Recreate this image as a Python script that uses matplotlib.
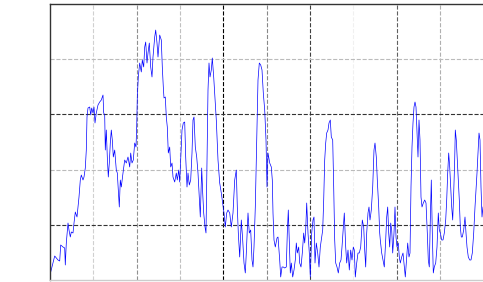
import numpy as np
import matplotlib
matplotlib.use("Agg")
import matplotlib.pyplot as plt

# ==============================================================================
# DATA (arbitrary units, no tick labels shown)
# ==============================================================================
t = [0.7, 3, 4.7, 6.3, 8, 9.7, 10.7, 13, 14.7, 15.3, 16.3, 18, 19, 20.3, 21.3, 23, 24, 25.3,
     27, 28, 29, 30.3, 31.3, 33, 34, 35.3, 36.3, 37, 38, 39.7, 40.7, 41.7, 43, 44, 45, 46.3,
     48, 49.7, 51.3, 53, 53.7, 54.7, 55.3, 56.3, 57.3, 58.3, 59.3, 60.3, 61.3, 62.3, 63.3,
     64.7, 66.3, 67.3, 68.7, 69.3, 70.3, 71.3, 73, 74.7, 76.3, 78, 79.7, 80.7, 82, 83.3, 84.7,
     86, 86.7, 87.3, 88.3, 89.7, 91.3, 92.3, 93.7, 94.7, 95.7, 97, 98, 99.3, 100.7, 102, 103,
     104.7, 105.7, 107, 108,
     109.7, 111.3, 112.3, 113.3, 114, 115.3, 116.3, 117.3, 118.3, 119.7, 120.7, 122, 123,
     124.7, 126.3, 127.3, 128.7, 129.7, 130.7, 132, 133.3, 134.7, 135.7, 137, 138, 139.3,
     140.7, 142, 143, 144, 145.3, 146.7, 148, 149.3, 150.3, 151.7, 152.7, 153.7, 155, 156,
     157, 158, 159, 160, 161.3, 162.3, 163.7, 164.7, 166.3, 168, 169.7, 171.3, 172.7, 174,
     175.3, 176.7, 178, 179.7, 181.3, 183, 184.7, 186.3, 187.3, 188.3, 189.7, 191.3, 192.7,
     194, 195.3, 196.3, 198, 199.3, 200.7, 202, 203, 204, 205.3, 206.7, 208, 209.3, 210.7,
     212, 213.3, 214.7, 216, 217, 218,
     219.7, 221.3, 222.3, 223, 224, 225.3, 227, 228, 229.7, 230.7, 232, 233.3, 234.7, 236.3,
     237.3, 238.3, 239.3, 240.3, 241.3, 242.7, 244, 245.3, 246.3, 247.3, 248.7, 249.7, 251,
     252.3, 253.7, 254.7, 255.7, 256.7, 258, 259.3, 260.3, 261.7, 263, 264, 265, 266.3, 267.7,
     269, 270.3, 271.3, 272.7, 273.7, 274.7, 275.7, 276.7, 278, 279, 280.3, 281.3, 282.7,
     283.7, 284.7, 285.7, 287, 288.3, 289.7, 291, 292, 293.3, 294.3, 295.7, 296.7, 298, 299.3,
     300.7, 302, 303.3, 304.3, 305.3, 306.7, 308, 309.3, 310.7, 312.3, 313.7, 314.7, 315.7,
     316.7, 318, 319, 320, 321.3, 322.7, 324, 325, 326.3, 327.3, 328.7, 329.7,
     330.3, 331.7, 333, 334.3, 335.7, 336.7, 337.7, 338.7, 339.7, 340.7, 341.7, 342.7, 344,
     345, 346, 347, 348.3, 349.3, 350.3, 351.7, 353, 354.3, 355.3, 356.3, 357.7, 359, 360,
     361, 362, 363, 364, 365, 366, 367, 368, 369, 370, 371, 372, 373.3, 374.7, 376, 377.3,
     378.3, 379.3, 380.3, 381.3, 382.3, 383.3, 384.3, 385.7, 387, 388.3, 389.3, 390.3, 391.7,
     393, 394.3, 395.7, 396.7, 397.7, 398.7, 399.7, 400.7, 401.7, 402.7, 403.7, 404.7, 405.3,
     406.3, 407.3, 408.3, 409.3, 410.3, 411.3, 412.3, 413.7, 415, 416, 417, 418.3, 419.7, 421,
     422.3, 423.7, 425, 426, 427, 428, 429, 430, 431, 432, 433]

signal = [8, 17, 24, 22, 20, 19, 35, 33, 32, 15, 37, 57, 50, 43, 48, 47, 57, 68,
          63, 73, 83, 100, 105, 100, 103, 112, 130, 163, 172, 173, 165, 172, 167, 173, 157, 167,
          175, 178, 180, 185, 167, 165, 130, 150, 123, 103, 117, 137, 150, 140, 123,
          130, 110, 107, 83, 73, 100, 93, 107, 120, 117, 123, 113, 127, 117, 120, 137,
          133, 153, 183, 203, 217, 208, 220, 213, 233, 238, 217, 227, 237, 213, 203, 223,
          243, 250, 237, 223,
          245, 240, 213, 193, 182, 183, 163, 153, 127, 133, 113, 117, 103,
          98, 107, 100, 110, 98, 120, 150, 157, 158, 123, 93, 107, 95,
          100, 127, 160, 163, 133, 123, 107, 83, 63, 112, 87, 67, 53, 47,
          117, 190, 217, 203, 210, 222, 203, 187, 160, 120, 97, 87, 77, 67,
          53, 67, 70, 67, 53, 67, 100, 110, 73, 47, 23, 60, 40,
          17, 7, 27, 67, 47, 50, 20, 13, 33, 73, 137, 200, 217, 215,
          210, 187, 170, 140, 93, 127,
          117, 113, 100, 67, 40, 33, 42, 43, 20, 3, 13, 13, 12, 13,
          47, 70, 40, 7, 17, 3, 10, 20, 37, 27, 33, 17, 13,
          27, 47, 37, 50, 77, 47, 27, 3, 47, 60, 63, 17, 37, 27,
          13, 33, 40, 50, 80, 120, 137, 147, 150, 157, 160, 143, 140,
          93, 40, 17, 13, 7, 17, 20, 33, 53, 67, 33, 17, 30, 10,
          30, 20, 33, 30, 3, 17, 27, 27, 33, 60, 53, 30, 13,
          47, 67, 73, 60, 70, 93, 130, 137, 123, 100, 73, 47,
          40, 27, 20, 13, 40, 63, 73, 47, 33, 57, 50, 27, 47,
          73, 43, 33, 37, 23, 17, 23, 27, 13, 3, 17, 37, 23, 27,
          93, 133, 157, 173, 178, 173, 147, 123, 160, 140, 83, 73, 77, 80, 77, 47,
          20, 13, 60, 100, 47, 7, 13, 17, 33, 67, 50, 47, 40,
          40, 47, 60, 80, 107, 127, 113, 93, 73, 60, 87, 120, 150,
          140, 120, 100, 80, 53, 43, 43, 50, 63, 47, 33, 23, 20, 20,
          27, 47, 73, 90, 107, 127, 147, 140, 93, 63, 73]

# grid line shades, one per vertical / horizontal line
vgrid_colors = ["#d0d0d0", "#909090", "#c0c0c0", "#000000", "#888888",
                "#404040", "#f0f0f0", "#606060", "#b0b0b0"]
hgrid_colors = ["#333333", "#bbbbbb", "#333333", "#bbbbbb"]

# ==============================================================================
# PLOT
# ==============================================================================
x_max, y_max = 433.3, 276.0

fig = plt.figure(figsize=(4.83, 2.82), dpi=100)
ax = fig.add_axes([50 / 483, 2 / 282, x_max / 483, y_max / 282])

ax.plot(t, signal, color="blue", lw=0.5)

ax.set_xlim(0, x_max)
ax.set_ylim(0, y_max)

xt = np.linspace(0, x_max, 11)[1:-1]
yt = np.linspace(0, y_max, 6)[1:-1]
for xv, col in zip(xt, vgrid_colors):
    ax.axvline(xv, color=col, ls="--", lw=0.8, zorder=0)
for yv, col in zip(yt, hgrid_colors):
    ax.axhline(yv, color=col, ls="--", lw=0.8, zorder=0)

ax.set_xticks([])
ax.set_yticks([])
ax.spines["left"].set_color("#333333")
ax.spines["top"].set_color("#333333")
ax.spines["bottom"].set_color("#cccccc")
ax.spines["right"].set_visible(False)
for s in ax.spines.values():
    s.set_linewidth(1.0)

fig.savefig("out.png", dpi=100)
